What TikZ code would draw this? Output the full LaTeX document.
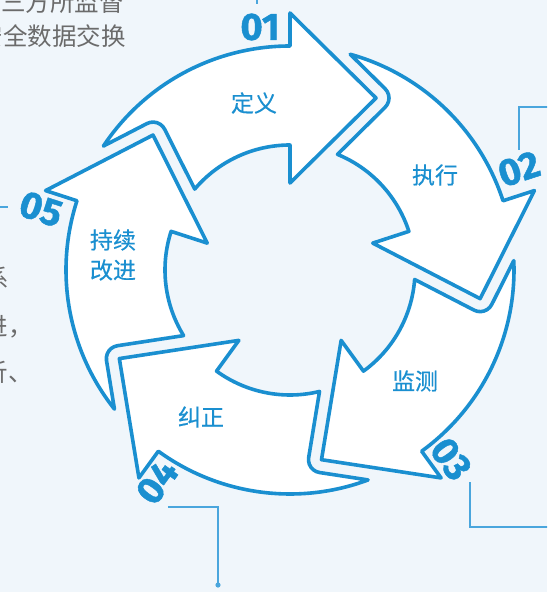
\documentclass[tikz,border=0pt]{standalone}
\usepackage{fontspec}
\newfontfamily\cjk{Noto Sans CJK SC}
\newfontfamily\cjkmed{Noto Sans CJK SC}[FakeBold=0.4]
\newfontfamily\numfont{Fira Sans}[BoldFeatures={FakeBold=1.2}]
\definecolor{mainblue}{HTML}{1A8FD0}
\definecolor{leadblue}{HTML}{4AA6DD}
\definecolor{bgcol}{HTML}{F0F6FB}
\definecolor{textgray}{HTML}{6B6B6B}
\begin{document}
\begin{tikzpicture}[x=1pt,y=1pt,
  arrowshape/.style={draw=mainblue, line width=3.6pt, fill=white, line join=round},
  steplabel/.style={font=\cjkmed\fontsize{23}{30}\selectfont, text=mainblue, inner sep=0, align=center},
  numlabel/.style={font=\numfont\bfseries\fontsize{38}{38}\selectfont, text=mainblue, inner sep=0},
  leader/.style={draw=leadblue, line width=1.1pt},
  graytext/.style={font=\cjk\fontsize{24.5}{30}\selectfont, text=textgray, inner sep=0}]
\fill[bgcol] (-290,-322) rectangle (257,270);
\useasboundingbox (-290,-322) rectangle (257,270);
\clip (-290,-322) rectangle (257,270);

% five curved arrows
\foreach \k in {0,...,4}{
  \pgfmathsetmacro{\a}{-72*\k}
  \pgfmathsetmacro{\to}{146.4+\a}
  \pgfmathsetmacro{\hb}{90+\a}
  \pgfmathsetmacro{\ap}{63.43+\a}
  \pgfmathsetmacro{\ti}{139.66+\a}
  \pgfmathsetmacro{\w}{131.69+\a}
  \pgfmathsetmacro{\sa}{26.66+\a}
  \pgfmathsetmacro{\ea}{117.34+\a}
  \path[arrowshape] (\to:224) arc[start angle=\to, end angle=\hb, radius=224]
     -- (\hb:257) -- (\ap:192.3) -- (\hb:87) -- (\hb:125)
     arc[start angle=\hb, end angle=\ti, radius=125]
     -- (\w:188.5) arc[start angle=\sa, end angle=\ea, radius=13] -- cycle;
}

% step labels
\node[steplabel] (s1) at (-36,167) {定义};
\node[steplabel] (s2) at (145,95) {执行};
\node[steplabel] (s3) at (125,-111) {监测};
\node[steplabel] (s4) at (-89,-147) {纠正};
\node[steplabel] (s5) at (-177,15) {持续\\改进};

% numbers
\node[numlabel] (n1) at (-30,243) {01};
\node[numlabel, rotate=18] (n2) at (229,101) {02};
\node[numlabel, rotate=-54] (n3) at (161,-189) {03};
\node[numlabel, rotate=54] (n4) at (-133,-212) {04};
\node[numlabel, rotate=-18] (n5) at (-249,61) {05};

% leader lines
\coordinate (l1a) at (-33,266);
\coordinate (l1b) at (-33,272);
\draw[leader] (l1a) -- (l1b);
\coordinate (l2a) at (229,120);
\coordinate (l2b) at (260,163);
\draw[leader] (l2a) |- (l2b);
\coordinate (l3a) at (180,-212);
\coordinate (l3b) at (260,-257);
\draw[leader] (l3a) |- (l3b);
\coordinate (l4a) at (-122,-237);
\coordinate (l4b) at (-72,-315);
\draw[leader] (l4a) -| (l4b);
\fill[leadblue] (l4b) circle (2.6);
\coordinate (l5a) at (-292,63);
\coordinate (l5b) at (-282,63);
\draw[leader] (l5a) -- (l5b);

% partial gray texts
\node[graytext, anchor=east] (t1) at (-166,268) {三方所监督};
\node[graytext, anchor=east] (t2) at (-164,234) {安全数据交换};
\node[graytext, anchor=east] (t3) at (-281,-8) {系};
\node[graytext, anchor=east] (t4) at (-257,-57) {进，};
\node[graytext, anchor=east] (t5) at (-257,-102) {析、};
\end{tikzpicture}
\end{document}
